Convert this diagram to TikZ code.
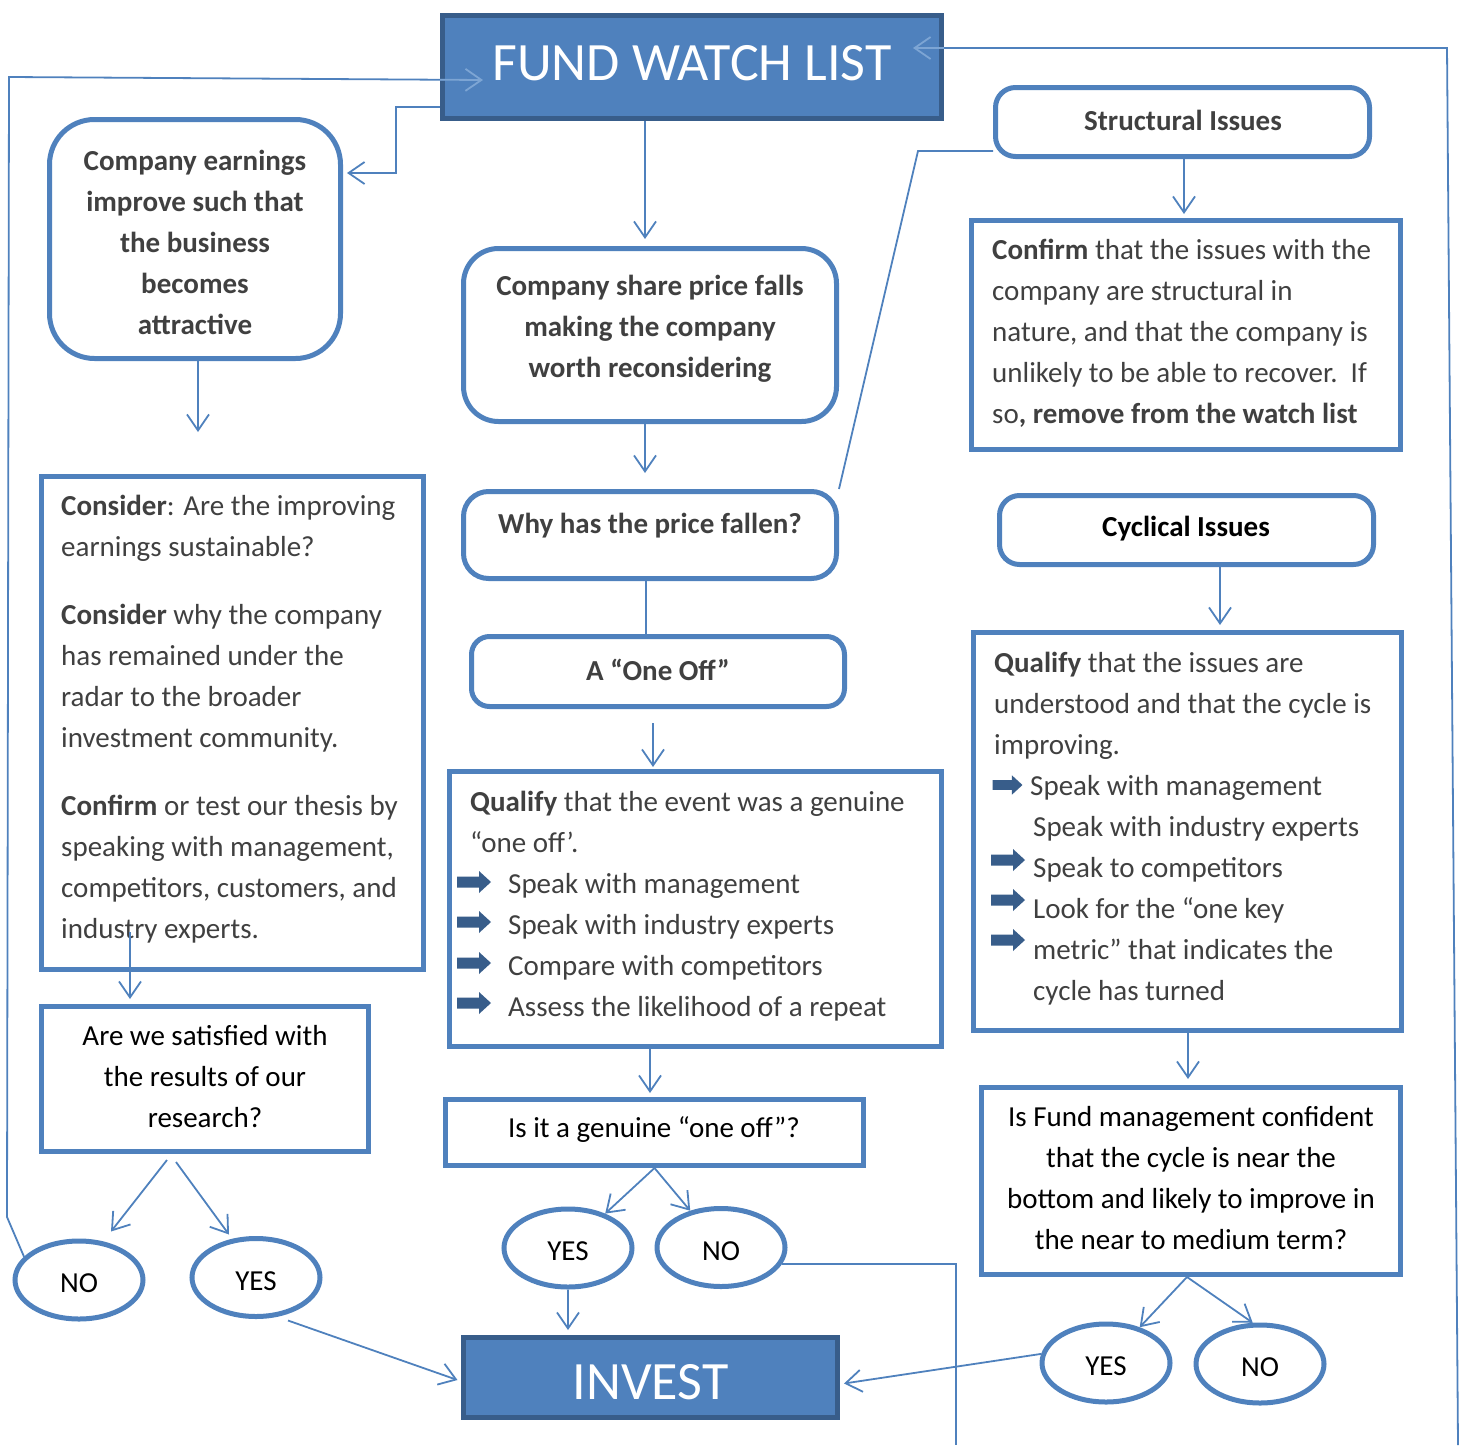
\documentclass[tikz,border=0pt]{standalone}
\usepackage{fontspec}
\setmainfont{Carlito}
\usetikzlibrary{arrows.meta,shapes.geometric,calc}
\definecolor{lblue}{RGB}{79,129,189}
\definecolor{dblue}{RGB}{56,93,138}
\definecolor{tgray}{RGB}{64,64,64}
\definecolor{pblue}{RGB}{125,165,212}
\begin{document}
\begin{tikzpicture}[x=1pt,y=-1pt,
  box/.style={draw=lblue, line width=5pt, fill=white, inner sep=0pt},
  rbox/.style={box, rounded corners=#1},
  dark/.style={draw=dblue, fill=lblue, line width=5pt, inner sep=0pt},
  ell/.style={ellipse, draw=lblue, line width=5pt, fill=white, minimum width=128pt, minimum height=78pt, inner sep=0pt, font=\fontsize{29}{41}\selectfont, text=black, text height=25pt, text depth=0pt},
  conn/.style={draw=lblue, line width=1.8pt},
  arr/.style={conn, -{Straight Barb[length=16pt,width=22pt]}},
  txt/.style={font=\fontsize{29}{41}\selectfont, text=tgray, inner sep=0pt},
  btxt/.style={txt, font=\fontsize{29}{41}\selectfont\bfseries},
  big/.style={font=\fontsize{54}{60}\selectfont, text=white, inner sep=0pt},
  barrow/.pic={\fill[dblue] (-17,-5.5) -- (5,-5.5) -- (5,-11) -- (17,0) -- (5,11) -- (5,5.5) -- (-17,5.5) -- cycle;}
]
\useasboundingbox (0,0) rectangle (1461,1445);

% ---------- boxes ----------
\node[dark, minimum width=499pt, minimum height=103pt] (fund) at (692,67) {};
\node[rbox=45pt, minimum width=291pt, minimum height=239pt] (earn) at (195,239) {};
\node[rbox=35pt, minimum width=373pt, minimum height=173pt] (share) at (650,335) {};
\node[rbox=25pt, minimum width=373pt, minimum height=87pt] (why) at (650,535) {};
\node[rbox=18pt, minimum width=373pt, minimum height=70pt] (oneoff) at (658,671.5) {};
\node[box, minimum width=492pt, minimum height=275pt] (qmid) at (695.5,909) {};
\node[box, minimum width=418pt, minimum height=66pt] (genuine) at (654.5,1132.5) {};
\node[ell] (yesM) at (568,1248) {YES};
\node[ell] (noM) at (721,1247.5) {NO};
\node[dark, minimum width=374pt, minimum height=80pt] (invest) at (650.5,1377.5) {};
\node[rbox=20pt, minimum width=374pt, minimum height=69pt] (struct) at (1182.5,122) {};
\node[box, minimum width=429pt, minimum height=229pt] (confirm) at (1186,335) {};
\node[rbox=20pt, minimum width=374pt, minimum height=69pt] (cycl) at (1186.5,530) {};
\node[box, minimum width=428pt, minimum height=398pt] (qright) at (1187.5,831.5) {};
\node[box, minimum width=419pt, minimum height=187pt] (confident) at (1191,1181) {};
\node[ell] (yesR) at (1106,1363) {YES};
\node[ell] (noR) at (1260,1364) {NO};
\node[box, minimum width=382pt, minimum height=493pt] (consider) at (232.5,723) {};
\node[box, minimum width=327pt, minimum height=145pt] (satisfied) at (205,1079) {};
\node[ell] (noL) at (79,1280) {NO};
\node[ell] (yesL) at (256,1277.5) {YES};

% ---------- texts ----------
\node[big] (fundT) at (692,63) {FUND WATCH LIST};
\node[big] (investT) at (650.5,1382) {INVEST};
\node[btxt, align=center] (earnT) at (195,242) {Company earnings\\improve such that\\the business\\becomes\\attractive};
\node[btxt, align=center] (shareT) at (650,329) {Company share price falls\\making the company\\worth reconsidering};
\node[btxt] (whyT) at (650,526) {Why has the price fallen?};
\node[btxt] (oneoffT) at (658,670) {A “One Off”};
\node[txt, align=left, anchor=west] (qmidT) at (470,906) {\textbf{Qualify} that the event was a genuine\\“one off’.\\\hspace*{38pt}Speak with management\\\hspace*{38pt}Speak with industry experts\\\hspace*{38pt}Compare with competitors\\\hspace*{38pt}Assess the likelihood of a repeat};
\node[txt, text=black] (genuineT) at (654,1130) {Is it a genuine “one off”?};
\node[btxt] (structT) at (1183,120) {Structural Issues};
\node[txt, align=left, anchor=west] (confirmT) at (992,333) {\textbf{Confirm} that the issues with the\\company are structural in\\nature, and that the company is\\unlikely to be able to recover.\ \ If\\so\textbf{, remove from the watch list}};
\node[btxt, text=black] (cyclT) at (1186,529) {Cyclical Issues};
\node[txt, align=left, anchor=west] (qrightT) at (994,829) {\textbf{Qualify} that the issues are\\understood and that the cycle is\\improving.\\\hspace*{36pt}Speak with management\\\hspace*{39pt}Speak with industry experts\\\hspace*{39pt}Speak to competitors\\\hspace*{39pt}Look for the “one key\\\hspace*{39pt}metric” that indicates the\\\hspace*{39pt}cycle has turned};
\node[txt, text=black, align=center] (confidentT) at (1191,1178) {Is Fund management confident\\that the cycle is near the\\bottom and likely to improve in\\the near to medium term?};
\node[txt, align=left, anchor=west] (considerT) at (61,719) {\textbf{Consider}: Are the improving\\earnings sustainable?\\[27pt]\textbf{Consider} why the company\\has remained under the\\radar to the broader\\investment community.\\[27pt]\textbf{Confirm} or test our thesis by\\speaking with management,\\competitors, customers, and\\industry experts.};
\node[txt, text=black, align=center] (satisfiedT) at (205,1077) {Are we satisfied with\\the results of our\\research?};

% ---------- block arrows ----------
\foreach \yy in {882,922,963,1003} \pic at (474,\yy) {barrow};
\pic[scale=0.88] at (1007.5,785) {barrow};
\foreach \yy in {860,900,940} \pic at (1008,\yy) {barrow};

% ---------- connectors ----------
\coordinate (fundInL) at (483,80);
\coordinate (fundInR) at (913,48);
\coordinate (rbot) at (1458,1445);
\coordinate (mbot) at (956,1445);
\coordinate (earnOut) at (198,432);
\coordinate (consIn) at (130,932);

\draw[arr] (noL.157) -- (7,1217) -- (9,77) -- (fundInL);
\draw[arr] ($(fund.west)+(0,40)$) -- (396,107) -- (396,173) -- ($(earn.east)+(4,-66)$);
\draw[arr] ($(fund.south)+(-47,0)$) -- ($(share.north)+(-5,-7)$);
\draw[arr] ($(share.south)+(-5,0)$) -- ($(why.north)+(-5,-16)$);
\draw[conn] ($(why.south)+(-4,0)$) -- ($(oneoff.north)+(-12,0)$);
\draw[arr] ($(oneoff.south)+(-5,14)$) -- ($(qmid.north)+(-42.5,-2)$);
\draw[conn] (why.north east) -- (918,151) -- ($(struct.west)+(0,29)$);
\draw[arr] ($(struct.south)+(1.5,0)$) -- ($(confirm.north)+(-2,-4)$);
\draw[arr] ($(cycl.south)+(33.5,0)$) -- ($(qright.north)+(32.5,-5)$);
\draw[arr] ($(qright.south)+(0.5,0)$) -- ($(confident.north)+(-3,-6)$);
\draw[arr] ($(confident.south)+(-4,0)$) -- (yesR);
\draw[arr] ($(confident.south)+(-4,0)$) -- (noR.100);
\draw[arr] (yesR.172) -- ($(invest.east)+(4,6)$);
\draw[arr] (rbot) -- (1447,48) -- (fundInR);
\draw[conn] (noM.-15) -- (noM.-15 -| mbot) -- (mbot);
\draw[arr] ($(qmid.south)+(-45.5,0)$) -- ($(genuine.north)+(-4.5,-4)$);
\draw[arr] (genuine.south) -- (yesM);
\draw[arr] (genuine.south) -- (noM);
\draw[arr] (yesM.south) -- ($(invest.north -| yesM.south)+(0,-5)$);
\draw[arr] ($(earn.south)+(3,0)$) -- (earnOut);
\draw[arr] (consIn) -- ($(satisfied.north -| consIn)+(0,-5)$);
\draw[arr] ($(satisfied.south)+(-38,6)$) -- ($(noL.north)+(32,-7)$);
\draw[arr] ($(satisfied.south)+(-29,8)$) -- ($(yesL.north)+(-27,-1.5)$);
\draw[arr] ($(yesL.south)+(32,1.5)$) -- ($(invest.west)+(-3.5,2.5)$);

% the parts of the two return connectors that lie over the filled FUND box show paler
\begin{scope}
  \clip (fund.north west) rectangle (fund.south east);
  \draw[arr, draw=pblue] (9,77) -- (fundInL);
  \draw[arr, draw=pblue] (1447,48) -- (fundInR);
\end{scope}
\end{tikzpicture}
\end{document}
